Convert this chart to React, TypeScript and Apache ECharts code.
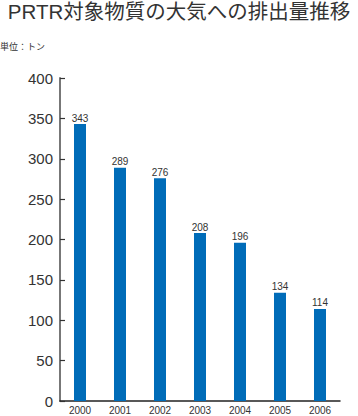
import React, { useEffect, useRef } from "react";
import * as echarts from "echarts";

const years = ["2000", "2001", "2002", "2003", "2004", "2005", "2006"];
const emissions = [343, 289, 276, 208, 196, 134, 114];
const yTicks = [0, 50, 100, 150, 200, 250, 300, 350, 400];

const FONT = "'Liberation Sans', 'Noto Sans CJK JP', sans-serif";

export default function App() {
  const ref = useRef<HTMLDivElement>(null);
  useEffect(() => {
    if (!ref.current) return;
    const chart = echarts.init(ref.current, null, { renderer: "svg" });
    chart.setOption({
      animation: false,
      backgroundColor: "#ffffff",
      graphic: [
        {
          type: "text",
          left: "center",
          top: 1,
          style: {
            text: "PRTR対象物質の大気への排出量推移",
            font: `20.5px ${FONT}`,
            fill: "#333333",
          },
        },
        {
          type: "text",
          left: 0,
          top: 42,
          style: { text: "単位：トン", font: `9px ${FONT}`, fill: "#333333" },
        },
      ],
      grid: { left: 60, right: 18, top: 78, bottom: 15, containLabel: false },
      xAxis: {
        type: "category",
        data: years,
        boundaryGap: true,
        axisLine: { lineStyle: { color: "#222222", width: 1.5 } },
        axisTick: { inside: true, length: 6, lineStyle: { color: "#333333", width: 1.2 } },
        axisLabel: { fontSize: 10, color: "#333333", margin: 4, fontFamily: FONT },
      },
      yAxis: {
        type: "value",
        min: yTicks[0],
        max: yTicks[yTicks.length - 1],
        interval: 50,
        axisLine: { show: true, lineStyle: { color: "#777777", width: 2 } },
        axisTick: { show: true, inside: true, length: 5, lineStyle: { color: "#333333", width: 1.2 } },
        axisLabel: { fontSize: 15, color: "#333333", margin: 7, fontFamily: FONT },
        splitLine: { show: false },
      },
      series: [
        {
          type: "bar",
          data: emissions,
          barWidth: 12,
          itemStyle: { color: "#006cb8" },
          label: {
            show: true,
            position: "top",
            distance: 1,
            fontSize: 10,
            color: "#333333",
            fontFamily: FONT,
          },
        },
      ],
    });
    return () => chart.dispose();
  }, []);
  return <div ref={ref} style={{ width: 358, height: 416, position: "absolute", left: 0, top: 0 }} />;
}
